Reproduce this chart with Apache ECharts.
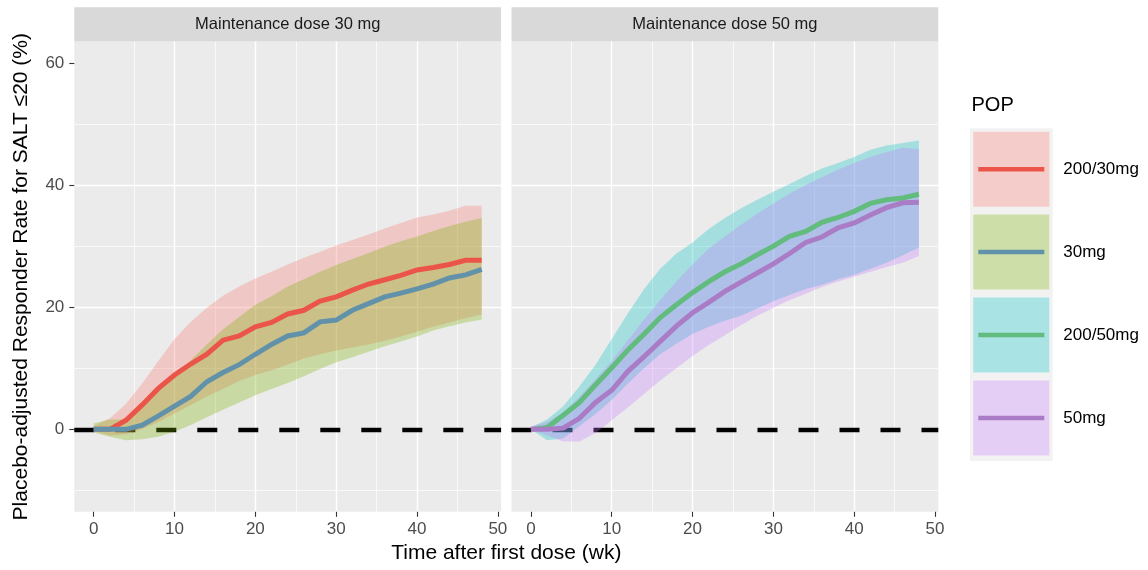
<!DOCTYPE html>
<html>
<head>
<meta charset="utf-8">
<title>Placebo-adjusted responder rate over time</title>
<script src="https://cdn.jsdelivr.net/npm/echarts@6/dist/echarts.min.js"></script>
<style>
  html, body { margin: 0; padding: 0; background: #ffffff; }
  #chart { width: 1148px; height: 570px; }
</style>
</head>
<body>
<div id="chart"></div>
<script>
// Weeks after first dose at which the simulated response is summarised
const weeks = [0, 2, 4, 6, 8, 10, 12, 14, 16, 18, 20, 22, 24, 26, 28, 30, 32, 34, 36, 38, 40, 42, 44, 46, 48];

// Population (POP) groups, in legend order
const popNames = ['200/30mg', '30mg', '200/50mg', '50mg'];
const panelTitles = ['Maintenance dose 30 mg', 'Maintenance dose 50 mg'];

// Median placebo-adjusted responder rate (%) and its interval, per group
const resp200_30 = [0, 0, 1.5, 4.0, 6.7, 8.9, 10.7, 12.3, 14.6, 15.3, 16.8, 17.5, 18.9, 19.5, 21.0, 21.7, 22.8, 23.8, 24.5, 25.2, 26.1, 26.5, 27.0, 27.7, 27.7];
const lo200_30   = [-0.3, -1.0, -0.8, 0, 1.2, 2.6, 4.0, 5.4, 6.6, 7.9, 8.9, 9.7, 10.6, 11.6, 12.3, 12.9, 13.4, 13.9, 14.5, 15.2, 16.0, 16.8, 17.5, 18.2, 18.8];
const hi200_30   = [0.5, 1.8, 4.2, 7.5, 11.2, 14.8, 17.6, 19.9, 21.9, 23.4, 24.7, 25.8, 27.0, 28.1, 29.1, 30.1, 31.0, 31.9, 32.9, 33.8, 34.7, 35.2, 35.8, 36.6, 36.6];

const resp30 = [0, 0, 0, 0.7, 2.2, 3.8, 5.4, 7.8, 9.3, 10.6, 12.3, 13.9, 15.3, 15.8, 17.6, 17.9, 19.5, 20.6, 21.7, 22.3, 23.0, 23.8, 24.8, 25.3, 26.2];
const lo30   = [-0.5, -1.2, -1.8, -1.6, -1.2, -0.4, 0.7, 2.0, 3.2, 4.4, 5.6, 6.6, 7.6, 8.7, 9.9, 11.0, 11.8, 12.7, 13.6, 14.4, 15.2, 16.2, 16.9, 17.5, 18.0];
const hi30   = [1.0, 1.6, 1.6, 3.8, 6.3, 8.8, 11.3, 13.9, 16.4, 18.4, 20.4, 21.8, 23.4, 24.6, 25.8, 26.9, 27.9, 28.9, 29.9, 30.8, 31.6, 32.5, 33.3, 34.0, 34.6];

const resp200_50 = [0, 0.3, 2.3, 4.4, 7.3, 10.1, 13.0, 15.6, 18.3, 20.4, 22.4, 24.2, 25.8, 27.1, 28.6, 30.0, 31.6, 32.4, 33.9, 34.7, 35.7, 37.0, 37.6, 37.9, 38.5];
const lo200_50   = [0, -1.8, -1.5, 0.5, 2.5, 4.8, 7.5, 10.0, 12.3, 14.0, 15.6, 16.8, 17.8, 18.6, 19.8, 21.0, 22.0, 23.0, 23.7, 24.6, 25.3, 26.3, 27.3, 28.5, 29.8];
const hi200_50   = [0.3, 1.6, 3.8, 7.0, 10.6, 14.8, 19.0, 23.0, 26.3, 28.8, 30.6, 32.8, 34.6, 36.2, 37.6, 38.9, 40.2, 41.5, 42.7, 43.6, 44.6, 45.8, 46.5, 46.9, 47.3];

const resp50 = [0, 0, 0.2, 1.8, 4.4, 6.4, 9.5, 11.9, 14.4, 16.9, 19.1, 20.8, 22.6, 24.1, 25.6, 27.1, 28.8, 30.6, 31.5, 33.0, 33.8, 35.1, 36.3, 37.1, 37.2];
const lo50   = [0, -1.0, -2.0, -2.0, -0.6, 1.5, 3.6, 5.8, 8.0, 10.0, 12.0, 13.8, 15.4, 17.1, 18.6, 19.9, 21.2, 22.2, 23.3, 24.2, 25.0, 25.8, 26.6, 27.3, 28.4];
const hi50   = [0.5, 1.2, 2.8, 5.3, 8.2, 11.2, 14.6, 18.0, 21.2, 24.2, 27.0, 29.6, 31.6, 33.5, 35.3, 37.0, 38.6, 40.0, 41.3, 42.5, 43.6, 44.6, 45.4, 46.1, 45.9];

// Axis ticks and the no-effect reference level
const xTicks = [0, 10, 20, 30, 40, 50];
const yTicks = [0, 20, 40, 60];
const refLevel = 0;

const groups = [
  { name: popNames[0], panel: 0, mid: resp200_30, lo: lo200_30, hi: hi200_30 },
  { name: popNames[1], panel: 0, mid: resp30,     lo: lo30,     hi: hi30 },
  { name: popNames[2], panel: 1, mid: resp200_50, lo: lo200_50, hi: hi200_50 },
  { name: popNames[3], panel: 1, mid: resp50,     lo: lo50,     hi: hi50 }
];

const fillColors = ['#F8766D', '#7CAE00', '#00BFC4', '#C77CFF'];
const lineColors = ['#eb5549', '#6292aa', '#62bc7e', '#aa7cc6'];
const ribbonAlpha = 0.3;

const FONT = '"Liberation Sans", Arial, Helvetica, sans-serif';
const X_MIN = -2.4, X_MAX = 50.4;
const Y_MIN = -13.5, Y_MAX = 63.5;

const PANEL_TOP = 41.6, PANEL_H = 470.2, PANEL_W = 426.8;
const panelLefts = [74.3, 511.5];

function hexToRgba(hex, a) {
  const n = parseInt(hex.slice(1), 16);
  return 'rgba(' + ((n >> 16) & 255) + ',' + ((n >> 8) & 255) + ',' + (n & 255) + ',' + a + ')';
}

// Ribbon drawn as one polygon: upper bound forward, lower bound back
function ribbonRenderer(g, fill) {
  return function (params, api) {
    if (params.dataIndex !== 0) return null;
    const pts = [];
    for (let i = 0; i < weeks.length; i++) pts.push(api.coord([weeks[i], g.hi[i]]));
    for (let i = weeks.length - 1; i >= 0; i--) pts.push(api.coord([weeks[i], g.lo[i]]));
    return {
      type: 'polygon',
      shape: { points: pts },
      style: { fill: hexToRgba(fill, ribbonAlpha), stroke: null }
    };
  };
}

const grids = panelLefts.map(function (left) {
  return {
    left: left, top: PANEL_TOP, width: PANEL_W, height: PANEL_H,
    show: true, backgroundColor: '#ebebeb', borderWidth: 0, containLabel: false
  };
});

const xAxes = [0, 1].map(function (gi) {
  return {
    type: 'value', gridIndex: gi, min: X_MIN, max: X_MAX, position: 'bottom',
    axisLine: { show: false, onZero: false },
    axisTick: { show: true, length: 5, customValues: xTicks, lineStyle: { color: '#333333', width: 1.1 } },
    axisLabel: { show: true, customValues: xTicks, color: '#4d4d4d', fontSize: 17, fontFamily: FONT, margin: 9 },
    splitLine: { show: true, showMinLine: false, showMaxLine: false, lineStyle: { color: '#ffffff', width: 1.4 } },
    minorTick: { show: false, splitNumber: 2 },
    minorSplitLine: { show: true, lineStyle: { color: '#ffffff', width: 0.7 } }
  };
});

const yAxes = [0, 1].map(function (gi) {
  return {
    type: 'value', gridIndex: gi, min: Y_MIN, max: Y_MAX, position: 'left',
    axisLine: { show: false, onZero: false },
    axisTick: { show: gi === 0, length: 5, customValues: yTicks, lineStyle: { color: '#333333', width: 1.1 } },
    axisLabel: { show: gi === 0, customValues: yTicks, color: '#4d4d4d', fontSize: 17, fontFamily: FONT, margin: 10 },
    splitLine: { show: true, showMinLine: false, showMaxLine: false, lineStyle: { color: '#ffffff', width: 1.4 } },
    minorTick: { show: false, splitNumber: 2 },
    minorSplitLine: { show: true, lineStyle: { color: '#ffffff', width: 0.7 } }
  };
});

const series = [];

// Dashed reference line at zero in each panel (under the ribbons)
[0, 1].forEach(function (gi) {
  series.push({
    type: 'line', name: 'ref' + gi, xAxisIndex: gi, yAxisIndex: gi,
    data: [], silent: true,
    markLine: {
      silent: true, symbol: ['none', 'none'], z: 1, animation: false,
      label: { show: false },
      emphasis: { disabled: true },
      lineStyle: { color: '#000000', width: 4.3, type: [20, 21], opacity: 1 },
      data: [{ yAxis: refLevel }]
    }
  });
});

// Interval ribbons
groups.forEach(function (g, k) {
  series.push({
    type: 'custom', name: g.name + ' band', xAxisIndex: g.panel, yAxisIndex: g.panel,
    z: 2, silent: true,
    renderItem: ribbonRenderer(g, fillColors[k]),
    encode: { x: 0, y: [1, 2] },
    data: weeks.map(function (w, i) { return [w, g.lo[i], g.hi[i]]; })
  });
});

// Median lines
groups.forEach(function (g, k) {
  series.push({
    type: 'line', name: g.name, xAxisIndex: g.panel, yAxisIndex: g.panel,
    z: 3, silent: true, showSymbol: false, smooth: false,
    lineStyle: { color: lineColors[k], width: 5, cap: 'butt', join: 'miter' },
    data: weeks.map(function (w, i) { return [w, g.mid[i]]; })
  });
});

// Facet strips, axis titles and legend
const graphics = [];
panelLefts.forEach(function (left, i) {
  graphics.push({
    type: 'rect', silent: true,
    shape: { x: left, y: 7.3, width: PANEL_W, height: PANEL_TOP - 7.3 },
    style: { fill: '#d9d9d9' }
  });
  graphics.push({
    type: 'text', silent: true, x: left + PANEL_W / 2, y: 24.6,
    style: { text: panelTitles[i], fill: '#1a1a1a', fontSize: 16.5, fontFamily: FONT, align: 'center', verticalAlign: 'middle' }
  });
});

graphics.push({
  type: 'text', silent: true, x: (panelLefts[0] + panelLefts[1] + PANEL_W) / 2, y: 553.5,
  style: { text: 'Time after first dose (wk)', fill: '#000000', fontSize: 21, fontFamily: FONT, align: 'center', verticalAlign: 'middle' }
});
graphics.push({
  type: 'text', silent: true, x: 21.5, y: PANEL_TOP + PANEL_H / 2, rotation: Math.PI / 2,
  style: { text: 'Placebo-adjusted Responder Rate for SALT \u226420 (%)', fill: '#000000', fontSize: 21, fontFamily: FONT, align: 'center', verticalAlign: 'middle' }
});

// Legend
const LEG_X = 970, LEG_Y = 128.3, KEY_STEP = 82.9, KEY_W = 76, KEY_H = 75;
graphics.push({
  type: 'text', silent: true, x: 971.5, y: 105.5,
  style: { text: 'POP', fill: '#000000', fontSize: 20, fontFamily: FONT, align: 'left', verticalAlign: 'middle' }
});
graphics.push({
  type: 'rect', silent: true,
  shape: { x: LEG_X, y: LEG_Y, width: 82.7, height: KEY_STEP * popNames.length + 1 },
  style: { fill: '#f2f2f2' }
});
popNames.forEach(function (name, k) {
  const top = LEG_Y + 3.4 + k * KEY_STEP;
  const cy = top + KEY_H / 2;
  graphics.push({
    type: 'rect', silent: true,
    shape: { x: LEG_X + 3.3, y: top, width: KEY_W, height: KEY_H },
    style: { fill: hexToRgba(fillColors[k], ribbonAlpha) }
  });
  graphics.push({
    type: 'line', silent: true,
    shape: { x1: LEG_X + 8.3, y1: cy, x2: LEG_X + 74.3, y2: cy },
    style: { stroke: lineColors[k], lineWidth: 4.5 }
  });
  graphics.push({
    type: 'text', silent: true, x: 1063.3, y: cy,
    style: { text: name, fill: '#000000', fontSize: 17, fontFamily: FONT, align: 'left', verticalAlign: 'middle' }
  });
});

const chart = echarts.init(document.getElementById('chart'), null, { renderer: 'canvas' });
chart.setOption({
  animation: false,
  backgroundColor: '#ffffff',
  textStyle: { fontFamily: FONT },
  grid: grids,
  xAxis: xAxes,
  yAxis: yAxes,
  series: series,
  graphic: graphics
});
</script>
</body>
</html>
